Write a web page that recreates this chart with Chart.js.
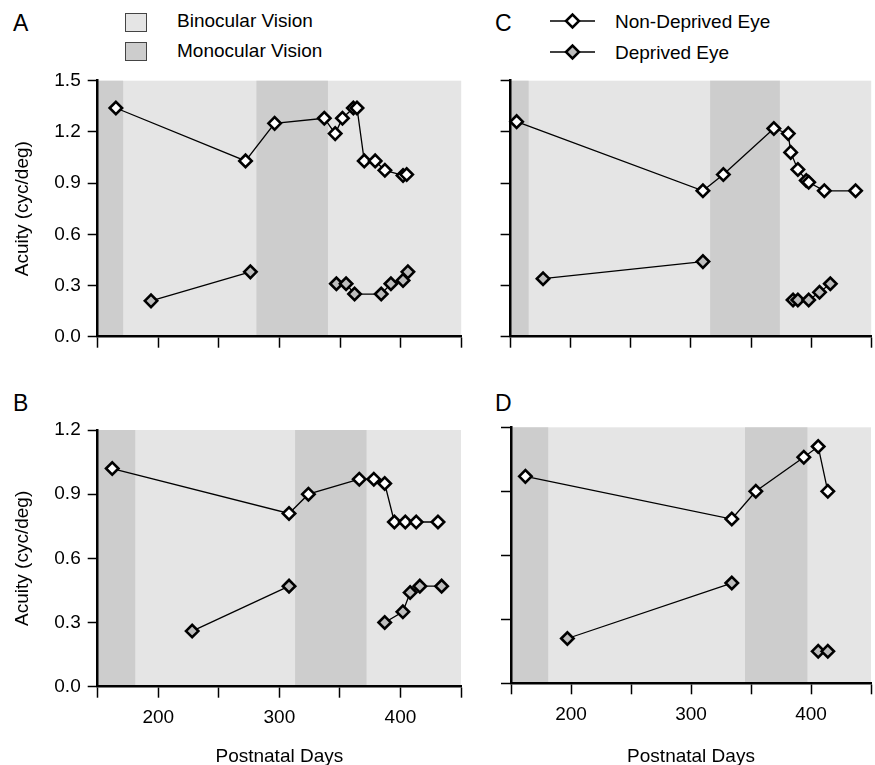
<!DOCTYPE html>
<html>
<head>
<meta charset="utf-8">
<script src="https://cdn.jsdelivr.net/npm/chart.js"></script>
<style>
  html, body { margin: 0; padding: 0; background: #fff; }
  #fig { position: relative; width: 875px; height: 765px; overflow: hidden;
         font-family: "Liberation Sans", Arial, Helvetica, sans-serif; color: #000; }
  #fig canvas { position: absolute; }
  .txt { position: absolute; line-height: 1; white-space: nowrap; font-size: 19px; }
  .letter { position: absolute; line-height: 1; font-size: 23px; }
  .sq { position: absolute; width: 20px; height: 17px; border: 1px solid #444; }
</style>
</head>
<body>
<div id="fig">
  <div class="letter" style="left:13px;top:12px">A</div>
  <div class="letter" style="left:13px;top:392px">B</div>
  <div class="letter" style="left:495px;top:12px">C</div>
  <div class="letter" style="left:495px;top:392px">D</div>

  <div class="sq" style="left:125px;top:13px;background:#e5e5e5"></div>
  <div class="txt" style="left:177px;top:11px">Binocular Vision</div>
  <div class="sq" style="left:125px;top:42px;background:#cdcdcd"></div>
  <div class="txt" style="left:177px;top:41px">Monocular Vision</div>

  <svg style="position:absolute;left:545px;top:8px" width="56" height="60">
    <line x1="5" y1="13" x2="50" y2="13" stroke="#000" stroke-width="1.3"/>
    <polygon points="21,13 27.5,6.5 34,13 27.5,19.5" fill="#fff" stroke="#000" stroke-width="2.5"/>
    <line x1="5" y1="44" x2="50" y2="44" stroke="#000" stroke-width="1.3"/>
    <polygon points="21,44 27.5,37.5 34,44 27.5,50.5" fill="#bdbdbd" stroke="#000" stroke-width="2.5"/>
  </svg>
  <div class="txt" style="left:615px;top:12px">Non-Deprived Eye</div>
  <div class="txt" style="left:615px;top:43px">Deprived Eye</div>

  <canvas id="cA" width="470" height="300" style="left:0;top:60px"></canvas>
  <canvas id="cC" width="450" height="300" style="left:430px;top:60px"></canvas>
  <canvas id="cB" width="470" height="358" style="left:0;top:410px"></canvas>
  <canvas id="cD" width="450" height="358" style="left:430px;top:410px"></canvas>
</div>
<script>
// ---------- dados (dias pós-natais x acuidade) ----------
const A_nonDays = [165, 272, 296, 337, 346, 352, 361, 364, 370, 379, 387, 402, 405];
const A_nonAcuity = [1.34, 1.03, 1.25, 1.28, 1.19, 1.28, 1.34, 1.34, 1.03, 1.03, 0.975, 0.945, 0.95];
const A_depDays = [194, 276, 347, 355, 362, 384, 392, 402, 406];
const A_depAcuity = [0.21, 0.38, 0.31, 0.31, 0.25, 0.25, 0.31, 0.33, 0.38];
const A_monoStart = [150, 281];
const A_monoEnd = [171, 340];

const B_nonDays = [162, 308, 324, 366, 378, 387, 395, 404, 413, 431];
const B_nonAcuity = [1.02, 0.81, 0.90, 0.97, 0.97, 0.95, 0.77, 0.77, 0.77, 0.77];
const B_depDays = [228, 308, 387, 402, 408, 416, 434];
const B_depAcuity = [0.26, 0.47, 0.30, 0.35, 0.44, 0.47, 0.47];
const B_monoStart = [150, 313];
const B_monoEnd = [181, 372];

const C_nonDays = [155, 310, 327, 369, 381, 383, 389, 396, 398, 411, 437];
const C_nonAcuity = [1.26, 0.855, 0.95, 1.22, 1.19, 1.08, 0.98, 0.915, 0.905, 0.855, 0.855];
const C_depDays = [177, 310, 385, 389, 398, 407, 416];
const C_depAcuity = [0.34, 0.44, 0.215, 0.215, 0.215, 0.26, 0.31];
const C_monoStart = [150, 316];
const C_monoEnd = [165, 374];

const D_nonDays = [162, 334, 354, 394, 406, 414];
const D_nonAcuity = [0.97, 0.77, 0.90, 1.06, 1.11, 0.90];
const D_depDays = [197, 334, 406, 414];
const D_depAcuity = [0.21, 0.47, 0.15, 0.15];
const D_monoStart = [150, 345];
const D_monoEnd = [181, 397];

// linha do olho privado é interrompida depois deste ponto
const depGapAfter = 1;

const xTicks = [150, 200, 250, 300, 350, 400, 450];
const xTickLabels = ["", "200", "", "300", "", "400", ""];

// ---------- estilo ----------
const LIGHT = "#e5e5e5";
const DARK = "#cdcdcd";
const FONT = "'Liberation Sans', Arial, Helvetica, sans-serif";
Chart.defaults.font.family = FONT;
Chart.defaults.font.size = 19;
Chart.defaults.color = "#000";

const shading = {
  id: "shading",
  beforeDraw(chart, args, opts) {
    const { ctx, chartArea: a, scales: { x } } = chart;
    ctx.save();
    ctx.fillStyle = LIGHT;
    ctx.fillRect(a.left, a.top, a.right - a.left, a.bottom - a.top);
    ctx.fillStyle = DARK;
    opts.start.forEach((s, i) => {
      const x0 = x.getPixelForValue(s);
      const x1 = x.getPixelForValue(opts.end[i]);
      ctx.fillRect(x0, a.top, x1 - x0, a.bottom - a.top);
    });
    ctx.restore();
  },
};

function pts(days, vals) {
  return days.map((d, i) => ({ x: d, y: vals[i] }));
}

function panel(id, p) {
  const serie = (days, vals, fill, gap) => ({
    data: pts(days, vals),
    showLine: true,
    borderColor: "#000",
    borderWidth: 1.3,
    pointStyle: "rectRot",
    pointRadius: 6.2,
    pointBorderWidth: 2.6,
    pointBorderColor: "#000",
    pointBackgroundColor: fill,
    clip: false,
    segment: gap == null ? undefined : {
      borderColor: (ctx) => (ctx.p0DataIndex === gap ? "rgba(0,0,0,0)" : "#000"),
    },
  });

  return new Chart(document.getElementById(id), {
    type: "scatter",
    data: {
      datasets: [
        serie(p.depDays, p.depAcuity, "#bdbdbd", depGapAfter),
        serie(p.nonDays, p.nonAcuity, "#fff", null),
      ],
    },
    plugins: [shading],
    options: {
      responsive: false,
      animation: false,
      events: [],
      layout: { padding: { top: p.padTop, right: p.padRight, left: 0, bottom: 0 } },
      plugins: {
        legend: { display: false },
        tooltip: { enabled: false },
        shading: { start: p.monoStart, end: p.monoEnd },
      },
      scales: {
        x: {
          type: "linear",
          min: 150,
          max: 450,
          afterFit: (s) => { s.height = p.xH; },
          afterBuildTicks: (s) => { s.ticks = xTicks.map((v) => ({ value: v })); },
          border: { display: true, color: "#000", width: 2.5 },
          grid: { drawOnChartArea: false, drawTicks: true, tickLength: 11, tickWidth: 1.5, tickColor: "#000" },
          ticks: {
            display: p.xLabels,
            autoSkip: false,
            maxRotation: 0,
            padding: 9,
            callback: (v) => xTickLabels[xTicks.indexOf(v)],
          },
          title: {
            display: p.xLabels,
            text: "Postnatal Days",
            padding: { top: 0, bottom: 0 },
          },
        },
        y: {
          min: 0,
          max: p.yMax,
          afterFit: (s) => { s.width = p.yW; },
          afterBuildTicks: (s) => { s.ticks = p.yTicks.map((v) => ({ value: v })); },
          border: { display: true, color: "#000", width: 2.5 },
          grid: { drawOnChartArea: false, drawTicks: true, tickLength: 10, tickWidth: 1.5, tickColor: "#000" },
          ticks: {
            display: p.yLabels,
            padding: 7,
            callback: (v) => v.toFixed(1),
          },
          title: {
            display: p.yLabels,
            text: "Acuity (cyc/deg)",
            padding: { top: 11, bottom: 0 },
          },
        },
      },
    },
  });
}

const yTicksTop = [0, 0.3, 0.6, 0.9, 1.2, 1.5];
const yTicksBottom = [0, 0.3, 0.6, 0.9, 1.2];

panel("cA", {
  nonDays: A_nonDays, nonAcuity: A_nonAcuity, depDays: A_depDays, depAcuity: A_depAcuity,
  monoStart: A_monoStart, monoEnd: A_monoEnd,
  yMax: 1.5, yTicks: yTicksTop, yLabels: true, xLabels: false,
  yW: 97.7, xH: 23.3, padTop: 20.7, padRight: 7,
});
panel("cC", {
  nonDays: C_nonDays, nonAcuity: C_nonAcuity, depDays: C_depDays, depAcuity: C_depAcuity,
  monoStart: C_monoStart, monoEnd: C_monoEnd,
  yMax: 1.5, yTicks: yTicksTop, yLabels: false, xLabels: false,
  yW: 80.6, xH: 23.3, padTop: 20.7, padRight: 3,
});
panel("cB", {
  nonDays: B_nonDays, nonAcuity: B_nonAcuity, depDays: B_depDays, depAcuity: B_depAcuity,
  monoStart: B_monoStart, monoEnd: B_monoEnd,
  yMax: 1.2, yTicks: yTicksBottom, yLabels: true, xLabels: true,
  yW: 97.7, xH: 81.3, padTop: 20, padRight: 7,
});
panel("cD", {
  nonDays: D_nonDays, nonAcuity: D_nonAcuity, depDays: D_depDays, depAcuity: D_depAcuity,
  monoStart: D_monoStart, monoEnd: D_monoEnd,
  yMax: 1.2, yTicks: yTicksBottom, yLabels: false, xLabels: true,
  yW: 81, xH: 84.7, padTop: 17.3, padRight: 3,
});
</script>
</body>
</html>
